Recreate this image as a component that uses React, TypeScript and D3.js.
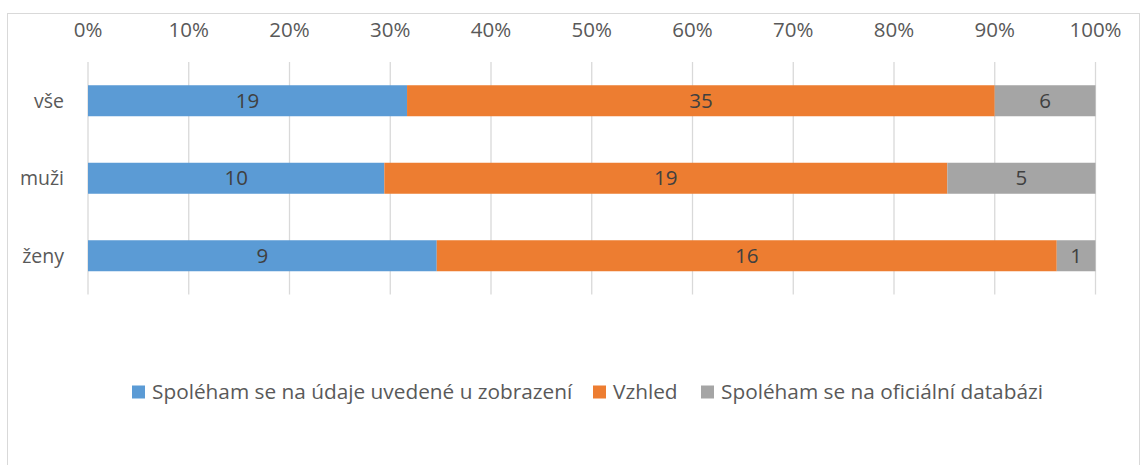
import React, { useEffect, useRef } from "react";
import * as d3 from "d3";

const categories = ["vše", "muži", "ženy"];
const seriesNames = [
  "Spoléham se na údaje uvedené u zobrazení",
  "Vzhled",
  "Spoléham se na oficiální databázi",
];
const udaje = [19, 10, 9];
const vzhled = [35, 19, 16];
const databaze = [6, 5, 1];
const tickValues = [0, 0.1, 0.2, 0.3, 0.4, 0.5, 0.6, 0.7, 0.8, 0.9, 1];
const colors = ["#5B9BD5", "#ED7D31", "#A5A5A5"];

const App = () => {
  const svgRef = useRef<SVGSVGElement>(null);

  useEffect(() => {
    const width = 1145;
    const height = 465;
    const font = "'Open Sans', sans-serif";

    const svg = d3.select(svgRef.current);
    svg.selectAll("*").remove();
    svg.attr("width", width).attr("height", height);

    // chart border
    svg
      .append("rect")
      .attr("x", 7.5)
      .attr("y", 13.5)
      .attr("width", 1132)
      .attr("height", 470)
      .attr("fill", "#fff")
      .attr("stroke", "#d9d9d9");

    const xScale = d3.scaleLinear().domain([0, 1]).range([88, 1095.5]);
    const yScale = d3
      .scaleBand()
      .domain(categories)
      .range([62, 294.5])
      .paddingInner(0.6)
      .paddingOuter(0.3);

    // gridlines
    svg
      .append("g")
      .selectAll("line")
      .data(tickValues)
      .enter()
      .append("line")
      .attr("x1", (d) => xScale(d))
      .attr("x2", (d) => xScale(d))
      .attr("y1", 62)
      .attr("y2", 294.5)
      .attr("stroke", "#d9d9d9")
      .attr("stroke-width", 1.3);

    // tick labels (top)
    svg
      .append("g")
      .selectAll("text")
      .data(tickValues)
      .enter()
      .append("text")
      .attr("x", (d) => xScale(d))
      .attr("y", 30)
      .attr("dy", "0.35em")
      .attr("text-anchor", "middle")
      .style("font-family", font)
      .style("font-size", "20.5px")
      .style("fill", "#595959")
      .text((d) => d3.format(".0%")(d));

    // stacked data
    const rows = categories.map((c, i) => {
      const vals = [udaje[i], vzhled[i], databaze[i]];
      const total = d3.sum(vals);
      let acc = 0;
      return vals.map((v, s) => {
        const x0 = acc / total;
        acc += v;
        return { cat: c, s, v, x0, x1: acc / total };
      });
    });

    const segs = rows.flat();
    const bars = svg.append("g");
    bars
      .selectAll("rect")
      .data(segs)
      .enter()
      .append("rect")
      .attr("x", (d) => xScale(d.x0))
      .attr("y", (d) => yScale(d.cat)!)
      .attr("width", (d) => xScale(d.x1) - xScale(d.x0))
      .attr("height", yScale.bandwidth())
      .attr("fill", (d) => colors[d.s]);

    bars
      .selectAll("text")
      .data(segs)
      .enter()
      .append("text")
      .attr("x", (d) => (xScale(d.x0) + xScale(d.x1)) / 2)
      .attr("y", (d) => yScale(d.cat)! + yScale.bandwidth() / 2)
      .attr("dy", "0.35em")
      .attr("text-anchor", "middle")
      .style("font-family", font)
      .style("font-size", "20.5px")
      .style("fill", "#404040")
      .text((d) => d.v);

    // category labels
    svg
      .append("g")
      .selectAll("text")
      .data(categories)
      .enter()
      .append("text")
      .attr("x", 64)
      .attr("y", (d) => yScale(d)! + yScale.bandwidth() / 2)
      .attr("dy", "0.35em")
      .attr("text-anchor", "end")
      .style("font-family", font)
      .style("font-size", "19.5px")
      .style("fill", "#595959")
      .text((d) => d);

    // legend
    const legendX = [132, 593, 701];
    const legend = svg
      .append("g")
      .selectAll("g")
      .data(seriesNames)
      .enter()
      .append("g")
      .attr("transform", (_, i) => `translate(${legendX[i]},392)`);
    legend
      .append("rect")
      .attr("x", 0)
      .attr("y", -6.5)
      .attr("width", 13)
      .attr("height", 13)
      .attr("fill", (_, i) => colors[i]);
    legend
      .append("text")
      .attr("x", 20)
      .attr("y", 0)
      .attr("dy", "0.35em")
      .style("font-family", font)
      .style("font-size", "20.8px")
      .style("fill", "#595959")
      .text((d) => d);
  }, []);

  return (
    <div style={{ position: "absolute", left: 0, top: 0 }}>
      <svg ref={svgRef}></svg>
    </div>
  );
};

export default App;
